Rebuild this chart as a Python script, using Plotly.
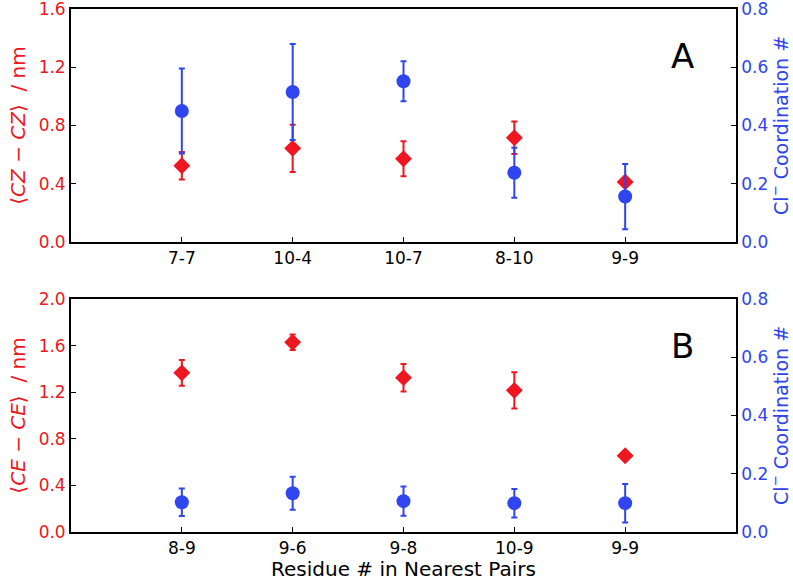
import plotly.graph_objects as go

# ---- data ----
pairs_a = ["7-7", "10-4", "10-7", "8-10", "9-9"]
dist_a = [0.524, 0.643, 0.572, 0.716, 0.412]
dist_a_err = [0.094, 0.162, 0.120, 0.111, 0.012]
coord_a = [0.450, 0.515, 0.552, 0.238, 0.156]
coord_a_err = [0.146, 0.165, 0.069, 0.086, 0.112]

pairs_b = ["8-9", "9-6", "9-8", "10-9", "9-9"]
dist_b = [1.366, 1.629, 1.325, 1.216, 0.654]
dist_b_err = [0.110, 0.067, 0.118, 0.156, 0.005]
coord_b = [0.102, 0.133, 0.106, 0.099, 0.099]
coord_b_err = [0.047, 0.057, 0.050, 0.049, 0.066]

panel_labels = ["A", "B"]
x_title = "Residue # in Nearest Pairs"

RED = "#ee1620"
BLUE = "#2e45f0"
FONT = "DejaVu Sans"

fig = go.Figure()

def add_panel(cats, d, de, c, ce, xa, ya, ya2):
    xs = list(range(len(cats)))
    fig.add_trace(go.Scatter(
        x=xs, y=d, mode="markers", xaxis=xa, yaxis=ya,
        marker=dict(symbol="diamond", size=13, color=RED),
        error_y=dict(type="data", array=de, visible=True, color=RED, thickness=2, width=3),
        showlegend=False))
    fig.add_trace(go.Scatter(
        x=xs, y=c, mode="markers", xaxis=xa, yaxis=ya2,
        marker=dict(symbol="circle", size=14, color=BLUE),
        error_y=dict(type="data", array=ce, visible=True, color=BLUE, thickness=2, width=3),
        showlegend=False))

add_panel(pairs_a, dist_a, dist_a_err, coord_a, coord_a_err, "x", "y", "y2")
add_panel(pairs_b, dist_b, dist_b_err, coord_b, coord_b_err, "x2", "y3", "y4")

axis_common = dict(showline=True, linecolor="black", linewidth=1.8, ticks="inside",
                   ticklen=5, tickwidth=1.3, tickcolor="black", showgrid=False,
                   zeroline=False, automargin=False, ticklabeloverflow="allow")

top_dom = [290 / 523, 1.0]
bot_dom = [0.0, 233 / 523]

def xaxis(cats, anchor):
    return dict(axis_common, domain=[0, 1], anchor=anchor, range=[-1, 5], mirror=True,
                tickmode="array", tickvals=list(range(len(cats))), ticktext=cats,
                tickfont=dict(family=FONT, size=17, color="black"))

def yleft(dom, rng, dtick, anchor, title):
    return dict(axis_common, domain=dom, anchor=anchor, range=rng, dtick=dtick, tick0=0,
                tickformat=".1f", mirror=True,
                tickfont=dict(family=FONT, size=17, color=RED),
                title=dict(text=title, font=dict(family=FONT, size=20, color=RED), standoff=8))

def yright(overlay, anchor, title):
    return dict(axis_common, overlaying=overlay, anchor=anchor, side="right",
                range=[0, 0.8], dtick=0.2, tick0=0, tickformat=".1f",
                tickfont=dict(family=FONT, size=17, color=BLUE),
                title=dict(text=title, font=dict(family=FONT, size=19, color=BLUE), standoff=3))

fig.update_layout(
    width=793, height=578,
    margin=dict(l=71, r=57, t=9, b=46, autoexpand=False),
    paper_bgcolor="white", plot_bgcolor="white",
    xaxis=xaxis(pairs_a, "y"),
    yaxis=yleft(top_dom, [0, 1.6], 0.4, "x", "⟨<i>CZ</i> − <i>CZ</i>⟩  / nm"),
    yaxis2=yright("y", "x", "Cl<sup>−</sup> Coordination #"),
    xaxis2=xaxis(pairs_b, "y3"),
    yaxis3=yleft(bot_dom, [0, 2.0], 0.4, "x2", "⟨<i>CE</i> − <i>CE</i>⟩  / nm"),
    yaxis4=yright("y3", "x2", "Cl<sup>−</sup> Coordination #"),
)

fig.add_annotation(text=x_title, x=0.5, y=-0.0707, xref="paper", yref="paper",
                   showarrow=False, xanchor="center", yanchor="middle",
                   font=dict(family=FONT, size=20, color="black"))

for lab, xr, yr in [(panel_labels[0], "x domain", "y domain"), (panel_labels[1], "x2 domain", "y3 domain")]:
    fig.add_annotation(text=lab, x=0.92, y=0.80, xref=xr, yref=yr, showarrow=False,
                       font=dict(family=FONT, size=34, color="black"),
                       xanchor="center", yanchor="middle")

fig.write_html("out.html", config={"displayModeBar": False},
               post_script="document.body.style.margin='0';document.body.style.overflow='hidden';")
